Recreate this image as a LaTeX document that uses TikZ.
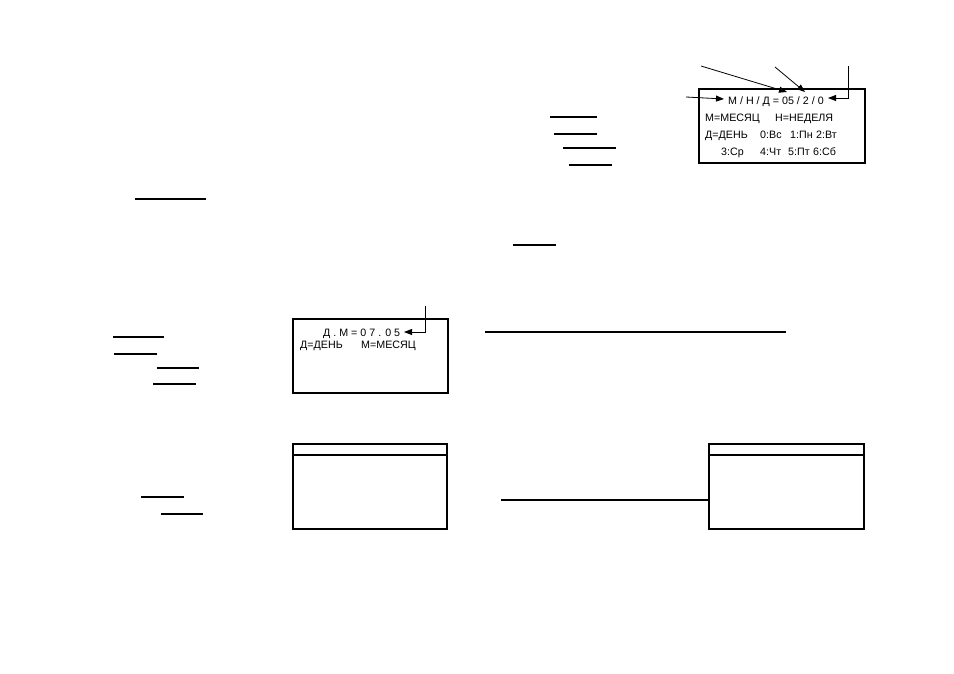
\documentclass[tikz,border=0pt]{standalone}
\usepackage{fontspec}
\setmainfont{Liberation Sans}
\usetikzlibrary{arrows.meta,positioning}

\begin{document}
\begin{tikzpicture}[x=1pt,y=-1pt,
  lcd/.style={draw,line width=1.5pt,anchor=north west,inner sep=0pt},
  txt/.style={anchor=base west,inner sep=0pt,font=\fontsize{10.7}{13}\selectfont},
  rule/.style={line width=1.3pt},
  ptr/.style={-{Triangle[length=8pt,width=6pt]},line width=0.8pt}]
\useasboundingbox (0,0) rectangle (954,673);

% displays
\node[lcd,minimum width=166pt,minimum height=74pt] (mnd) at (698,88) {};
\node[lcd,minimum width=155pt,minimum height=74pt] (dm) at (292,318) {};
\node[lcd,minimum width=154pt,minimum height=85pt] (blank1) at (292,443) {};
\node[lcd,minimum width=155pt,minimum height=85pt] (blank2) at (708,443) {};
\draw[rule] ([yshift=-12pt]blank1.north west) -- ([yshift=-12pt]blank1.north east);
\draw[rule] ([yshift=-12pt]blank2.north west) -- ([yshift=-12pt]blank2.north east);

% text of the month/week/day display
\node[txt] (mnd1) at (728,104) {М / Н / Д = 05 / 2 / 0};
\foreach \x/\t [count=\i] in {705/М=МЕСЯЦ, 775/Н=НЕДЕЛЯ}
  \node[txt] (mnd2-\i) at (\x,121) {\t};
\foreach \x/\t [count=\i] in {705/Д=ДЕНЬ, 760/0:Вс, 790/1:Пн, 816/2:Вт}
  \node[txt] (mnd3-\i) at (\x,138) {\t};
\foreach \x/\t [count=\i] in {721/3:Ср, 760/4:Чт, 788/5:Пт, 813/6:Сб}
  \node[txt] (mnd4-\i) at (\x,155) {\t};

% text of the day.month display
\node[txt] (dm1) at (323,336) {Д . М = 0 7 . 0 5};
\node[txt] (dm2-1) at (300,348) {Д=ДЕНЬ};
\node[txt] (dm2-2) at (361,348) {М=МЕСЯЦ};

% pointers
\coordinate (p1) at (686,97);
\coordinate (p2) at (701,66);
\coordinate (p3) at (775,67);
\coordinate (p4) at (848,66);
\coordinate (p5) at (425,306);
\coordinate (m05) at (787,92);
\coordinate (m2) at (805,92);
\draw[ptr] (p1) -- (724,99);
\draw[ptr] (p2) -- (m05);
\draw[ptr] (p3) -- (m2);
\draw[ptr] (p4) |- (828,98);
\draw[ptr] (p5) |- (404,332);

% free lines
\foreach \xa/\xb/\yy in {550/597/117, 554/597/134, 563/616/148, 569/612/165,
    135/206/199, 513/556/245, 485/786/332,
    113/164/337, 114/157/354, 157/199/368, 153/196/384,
    141/184/497, 161/203/514}
  \draw[rule] (\xa,\yy) -- (\xb,\yy);
\coordinate (w) at (501,500);
\draw[rule] (w) -- (w -| blank2.west);
\end{tikzpicture}
\end{document}
